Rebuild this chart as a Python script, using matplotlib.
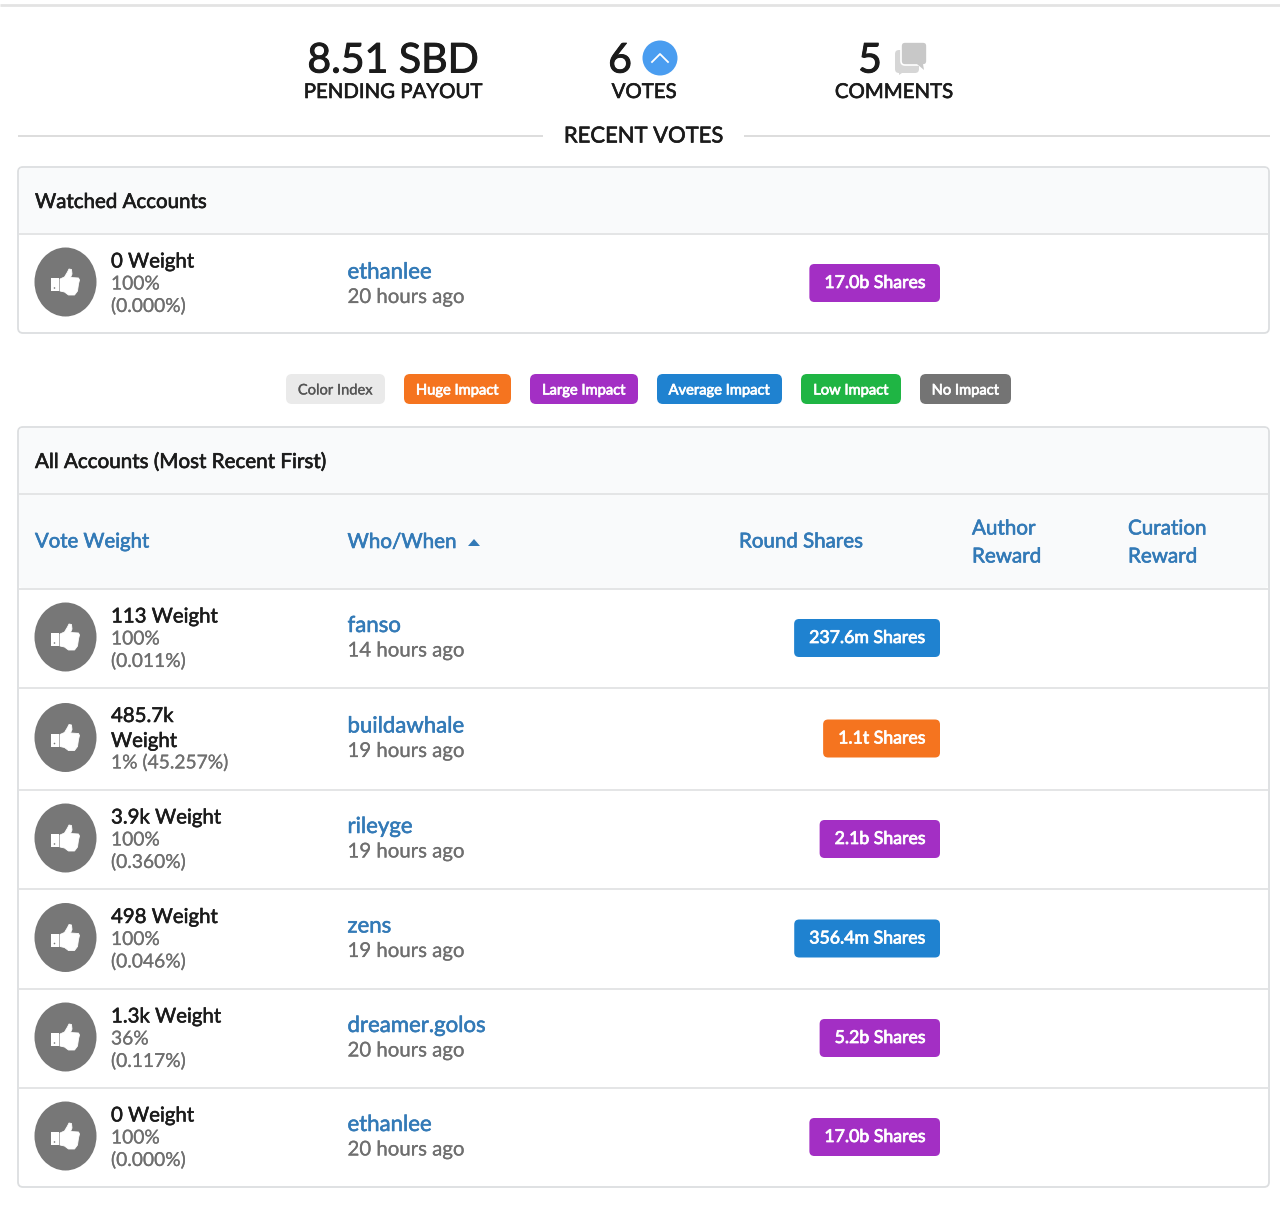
import matplotlib
matplotlib.use("Agg")
import matplotlib.pyplot as plt
import matplotlib.patheffects as pe
from matplotlib.patches import Ellipse, FancyBboxPatch, Polygon, Rectangle, Circle

plt.rcParams['font.family'] = ['Lato', 'DejaVu Sans']

# ---- data ----
summary_values = ["8.51 SBD", "6", "5"]
summary_labels = ["PENDING PAYOUT", "VOTES", "COMMENTS"]
legend_labels = ["Color Index", "Huge Impact", "Large Impact", "Average Impact", "Low Impact", "No Impact"]
weights = ["113 Weight", "485.7k\nWeight", "3.9k Weight", "498 Weight", "1.3k Weight", "0 Weight"]
percents = ["100%\n(0.011%)", "1% (45.257%)", "100%\n(0.360%)", "100%\n(0.046%)", "36%\n(0.117%)", "100%\n(0.000%)"]
names = ["fanso", "buildawhale", "rileyge", "zens", "dreamer.golos", "ethanlee"]
whens = ["14 hours ago", "19 hours ago", "19 hours ago", "19 hours ago", "20 hours ago", "20 hours ago"]
shares = ["237.6m Shares", "1.1t Shares", "2.1b Shares", "356.4m Shares", "5.2b Shares", "17.0b Shares"]
impact = ["average", "huge", "large", "average", "large", "large"]

ORANGE, PURPLE, BLUE, GREEN, GREY = "#f5741f", "#a32fc4", "#1f82d0", "#1fb544", "#747474"
LINK = "#337ab7"; DARK = "#1b1b1b"; MUTED = "#6f6f6f"; LINE = "#e4e5e6"; HEAD = "#f9fafb"
impact_colors = {"huge": ORANGE, "large": PURPLE, "average": BLUE}

fig = plt.figure(figsize=(12.8, 12.11), dpi=100, facecolor="white")
ax = fig.add_axes([0, 0, 1, 1])
ax.set_xlim(0, 1280); ax.set_ylim(1211, 0); ax.axis("off")
PX = 0.72

def T(x, y, s, size, color=DARK, ha="left", va="center", weight="normal", stroke=0.0, z=5):
    t = ax.text(x, y, s, fontsize=size * PX, color=color, ha=ha, va=va, fontweight=weight, zorder=z)
    if stroke:
        t.set_path_effects([pe.withStroke(linewidth=stroke, foreground=color)])
    return t

def hline(x0, x1, y, c=LINE, lw=1.4):
    ax.plot([x0, x1], [y, y], color=c, lw=lw, solid_capstyle="butt", zorder=3)

def rbox(x0, y0, x1, y1, fc, ec="none", r=4, lw=1.0, z=2):
    p = FancyBboxPatch((x0 + r, y0 + r), x1 - x0 - 2 * r, y1 - y0 - 2 * r,
                       boxstyle=f"round,pad={r},rounding_size={r}", fc=fc, ec=ec, lw=lw, zorder=z)
    ax.add_patch(p)

def thumb(cx, cy):
    ax.add_patch(Ellipse((cx, cy), 62, 69, fc="#777777", ec="none", zorder=3))
    ax.add_patch(Rectangle((cx - 14.5, cy - 4), 7.5, 13, fc="white", ec="none", zorder=4))
    ax.add_patch(Circle((cx - 11, cy + 6), 0.8, fc="#777777", ec="none", zorder=5))
    pts = [(-5.5, -3), (-1, -5), (2, -10), (3.5, -13), (6, -12.5), (6.5, -8), (5, -4.5),
           (13, -4), (14, -2), (13, 2), (12, 9), (9, 13), (3, 13), (-1, 10), (-5.5, 9)]
    ax.add_patch(Polygon([(cx + a, cy + b) for a, b in pts], closed=True, fc="white", ec="white",
                         lw=0.6, joinstyle="round", zorder=4))

def badge(right, cy, s, color):
    t = T(right - 14, cy, s, 17.7, color="white", ha="right", weight="normal", stroke=0.55)
    fig.canvas.draw()
    bb = t.get_window_extent().transformed(ax.transData.inverted())
    rbox(bb.x0 - 15, cy - 19, right, cy + 19, color, r=5)

# top line
hline(0, 1280, 5, "#e3e3e3", 2)

# summary
sx = [393, 620, 870]
for x, v in zip(sx, summary_values):
    T(x, 61, v, 41, ha="center", stroke=0.7)
for x, l in zip([393, 644, 894], summary_labels):
    T(x, 92.5, l, 20.4, ha="center", stroke=0.45)
ax.add_patch(Ellipse((660, 58), 35, 35, fc="#4a9df0", ec="none", zorder=3))
ax.plot([652, 660, 668], [62, 54, 62], color="white", lw=1.3, zorder=4)
# comment bubbles
rbox(895, 50, 919, 73, "#d6d6d6", r=4, z=3)
ax.add_patch(Polygon([(899, 71), (899, 75), (905, 71)], fc="#d6d6d6", ec="none", zorder=3))
rbox(901, 42, 927, 65, "#c8c8c8", ec="white", r=4, lw=1.2, z=4)
ax.add_patch(Polygon([(917, 64), (924, 70), (923, 64)], fc="#c8c8c8", ec="none", zorder=4))

# Recent votes divider
hline(18, 543, 136, "#dddddd", 1.4)
hline(744, 1270, 136, "#dddddd", 1.4)
T(643.5, 136.5, "RECENT VOTES", 22, ha="center", stroke=0.45)

# Watched panel
rbox(18, 167, 1269, 333, "white", ec="#dcdee0", r=5, lw=1.3, z=1)
rbox(19, 168, 1268, 234, HEAD, r=4, z=1.5)
hline(19, 1268, 234)
T(35, 202.5, "Watched Accounts", 20.5, stroke=0.45)

def row(top, bottom, w, p, n, when, sh, color, name_dy=0.0):
    cy = (top + bottom) / 2
    thumb(65.5, cy - 1.5)
    if "\n" in w:
        T(111, cy - 22.5, w.split("\n")[0], 20.4, stroke=0.4)
        T(111, cy + 2.5, w.split("\n")[1], 20.4, stroke=0.4)
        T(111, cy + 23.5, p, 19.2, color=MUTED, stroke=0.15)
    else:
        T(111, cy - 21.5, w, 20.4, stroke=0.4)
        a, b = p.split("\n")
        T(111, cy + 0.5, a, 19.2, color=MUTED, stroke=0.15)
        T(111, cy + 22.5, b, 19.2, color=MUTED, stroke=0.15)
    T(347.5, cy - 12.5 + name_dy, n, 22.2, color=LINK, stroke=0.4)
    T(347.5, cy + 12.5 + name_dy, when, 20.4, color=MUTED, stroke=0.15)
    badge(940, cy - 0.5, sh, color)

row(234, 333, weights[5], percents[5], names[5], whens[5], shares[5], PURPLE, name_dy=1.5)

# Legend
lx = [(286, 385, "#eaeaea"), (404, 511, ORANGE), (530, 638, PURPLE),
      (657, 782, BLUE), (801, 901, GREEN), (920, 1011, GREY)]
for (a, b, c), s in zip(lx, legend_labels):
    rbox(a, 374, b, 404, c, r=6)
    T((a + b) / 2, 390.5, s, 14.7, color="#555555" if c == "#eaeaea" else "white",
      ha="center", stroke=0.2 if c == "#eaeaea" else 0.5)

# All accounts panel
rbox(18, 427, 1269, 1187, "white", ec="#dcdee0", r=5, lw=1.3, z=1)
rbox(19, 428, 1268, 588, HEAD, r=4, z=1.5)
hline(19, 1268, 494)
hline(19, 1268, 589)
T(35, 462, "All Accounts (Most Recent First)", 20.6, stroke=0.45)

for x, y, s, size in [(35, 542, "Vote Weight", 20.3), (347.5, 542, "Who/When", 20.6),
                      (739, 542, "Round Shares", 20.5), (972, 528.5, "Author", 20.6),
                      (972, 556.5, "Reward", 20.6), (1128, 528.5, "Curation", 20.6),
                      (1128, 556.5, "Reward", 20.6)]:
    T(x, y, s, size, color=LINK, stroke=0.45)
ax.add_patch(Polygon([(468, 546), (480, 546), (474, 539)], fc=LINK, ec="none", zorder=4))

bounds = [589, 688, 790, 889, 989, 1088, 1187]
for i in range(6):
    row(bounds[i], bounds[i + 1], weights[i], percents[i], names[i], whens[i], shares[i],
        impact_colors[impact[i]])
    if i < 5:
        hline(19, 1268, bounds[i + 1])

fig.savefig("out.png", dpi=100, facecolor="white")
